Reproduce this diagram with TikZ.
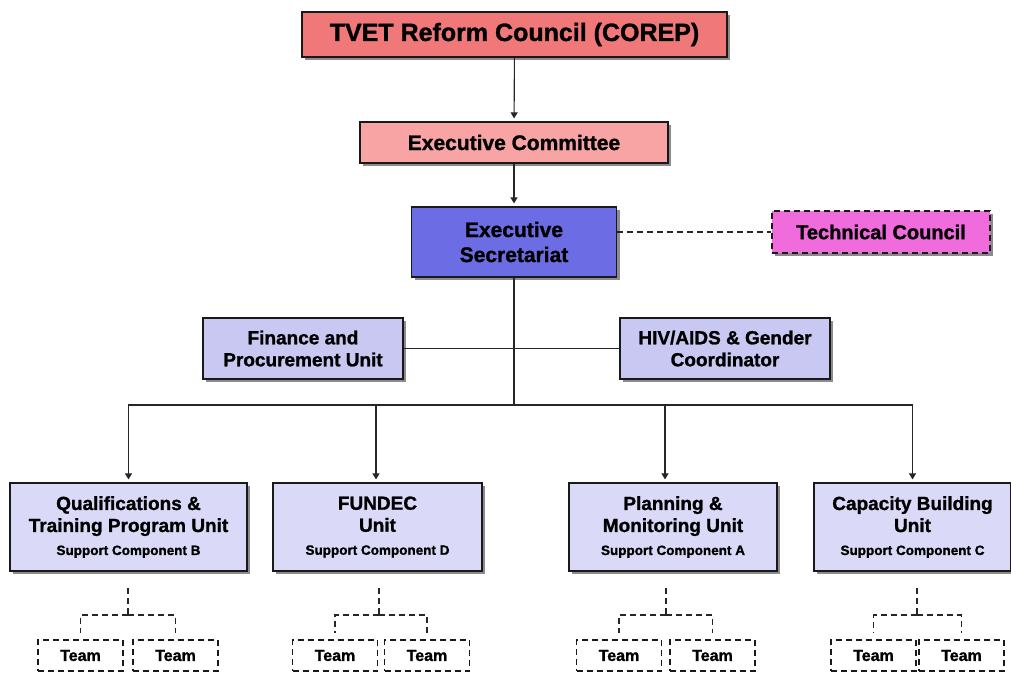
\documentclass[tikz,border=0pt]{standalone}
\usepackage{fontspec}
\setmainfont{Liberation Sans}[BoldFeatures={FakeBold=1.2}]
\usetikzlibrary{arrows.meta,shadows,calc}
\definecolor{corepc}{HTML}{F07878}
\definecolor{excomc}{HTML}{F8A4A4}
\definecolor{secc}{HTML}{6C6CE4}
\definecolor{tcc}{HTML}{F06CDC}
\definecolor{midc}{HTML}{C8C8F2}
\definecolor{unitc}{HTML}{DADAF8}
\definecolor{shc}{HTML}{8C8C8C}
\begin{document}
\begin{tikzpicture}[x=1pt,y=-1pt,
  box/.style={draw=black!90, line width=1.2pt, align=center, inner sep=0pt,
    drop shadow={shadow xshift=3pt,shadow yshift=-3pt,fill=shc,opacity=1},
    font=\bfseries\fontsize{19}{22}\selectfont},
  teambox/.style={draw=black!90, line width=1.3pt, dash pattern=on 6pt off 4pt,
    minimum width=85pt, minimum height=31pt, inner sep=0pt,
    font=\bfseries\fontsize{16}{18}\selectfont},
  conn/.style={draw=black!85, line width=1.1pt},
  arr/.style={conn, -{Triangle[width=7pt,length=6pt]}, shorten >=3pt},
  dsh/.style={draw=black!85, line width=1.3pt, dash pattern=on 6pt off 4pt}]
\useasboundingbox (0,0) rectangle (1011,673);
\clip (0,0) rectangle (1011,673);

% top chain
\node[box, fill=corepc, minimum width=425pt, minimum height=45pt,
  font=\bfseries\fontsize{25}{28}\selectfont] (corep) at (514.5,34.5) {TVET Reform Council (COREP)};
\node[box, fill=excomc, minimum width=308pt, minimum height=41pt,
  font=\bfseries\fontsize{21}{24}\selectfont] (excom) at (514,142.5) {Executive Committee};
\node[box, fill=secc, minimum width=205pt, minimum height=70pt,
  font=\bfseries\fontsize{21}{25}\selectfont] (sec) at (514,242) {Executive\\Secretariat};
\node[box, fill=tcc, dash pattern=on 6pt off 4pt, minimum width=218pt, minimum height=42pt,
  font=\bfseries\fontsize{20}{23}\selectfont] (tc) at (881,232) {Technical Council};

% middle
\node[box, fill=midc, minimum width=200pt, minimum height=61pt] (fin) at (303,348.5) {Finance and\\Procurement Unit};
\node[box, fill=midc, minimum width=210pt, minimum height=61pt] (hiv) at (725,348.5) {HIV/AIDS \& Gender\\Coordinator};

% units
\node[box, fill=unitc, minimum width=237pt, minimum height=88pt] (u1) at (128.5,527)
  {Qualifications \&\\Training Program Unit\\[1pt]{\fontsize{13.5}{15}\selectfont Support Component B}};
\node[box, fill=unitc, minimum width=209pt, minimum height=88pt] (u2) at (377.5,527)
  {FUNDEC\\Unit\\[1pt]{\fontsize{13.5}{15}\selectfont Support Component D}};
\node[box, fill=unitc, minimum width=208pt, minimum height=88pt] (u3) at (673,527)
  {Planning \&\\Monitoring Unit\\[1pt]{\fontsize{13.5}{15}\selectfont Support Component A}};
\node[box, fill=unitc, minimum width=197pt, minimum height=88pt] (u4) at (912.5,527)
  {Capacity Building\\Unit\\[1pt]{\fontsize{13.5}{15}\selectfont Support Component C}};

% teams
\node[teambox] (t1a) at (80.5,655.5) {Team};
\node[teambox] (t1b) at (175.5,655.5) {Team};
\node[teambox] (t2a) at (335,655.5) {Team};
\node[teambox] (t2b) at (427,655.5) {Team};
\node[teambox] (t3a) at (619,655.5) {Team};
\node[teambox] (t3b) at (712.5,655.5) {Team};
\node[teambox] (t4a) at (873.5,655.5) {Team};
\node[teambox] (t4b) at (961.5,655.5) {Team};

% connectors top
\draw[arr] (corep) -- (excom);
\draw[arr] (excom) -- (sec);
\draw[dsh] (sec.east |- tc.west) -- (tc.west);
\coordinate (bus) at (514,405);
\draw[conn] (sec.south) -- (bus);
\draw[conn] (fin.east) -- (hiv.west);
\draw[arr] (bus) -| (u1.north);
\draw[arr] (bus) -| ([xshift=-1.5pt]u2.north);
\draw[arr] (bus) -| ([xshift=-8pt]u3.north);
\draw[arr] (bus) -| (u4.north);

% dashed team trees
\foreach \u/\xx/\a/\b in {1/128/t1a/t1b, 2/379/t2a/t2b, 3/666/t3a/t3b, 4/917/t4a/t4b}{
  \coordinate (d\u) at (\xx,588);
  \coordinate (j\u) at (\xx,615);
  \draw[dsh] (d\u) -- (j\u);
  \draw[dsh, shorten >=6pt] (j\u) -| (\a.north);
  \draw[dsh, shorten >=6pt] (j\u) -| (\b.north);
}
\end{tikzpicture}
\end{document}
